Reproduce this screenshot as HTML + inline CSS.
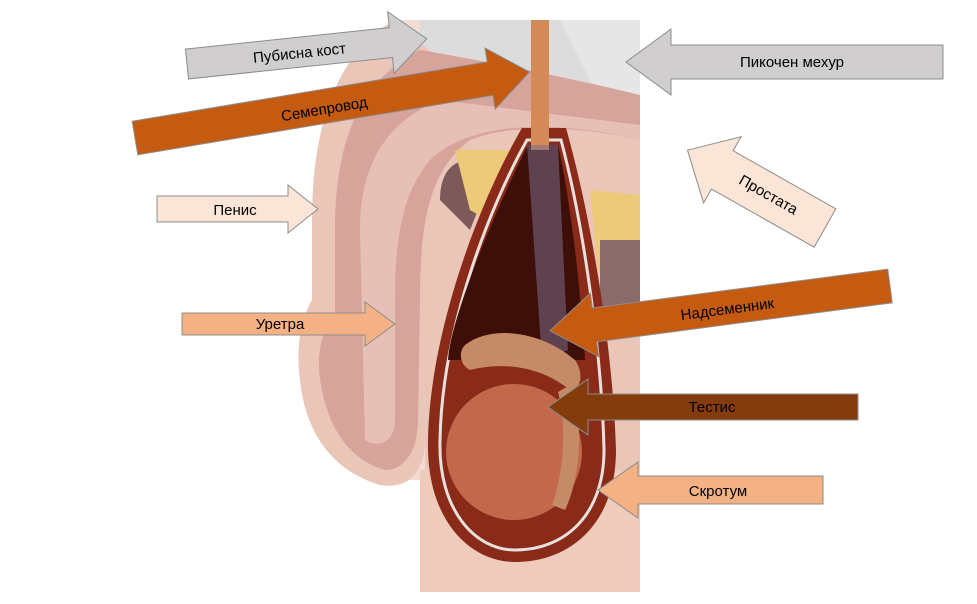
<!DOCTYPE html>
<html><head><meta charset="utf-8"><style>
html,body{margin:0;padding:0;background:#fff;}
svg{display:block;}
text{font-family:"Liberation Sans","DejaVu Sans",sans-serif;font-size:15px;fill:#000;}
</style></head><body>
<svg width="977" height="604" viewBox="0 0 977 604" xmlns="http://www.w3.org/2000/svg">
<!-- illustration -->
<rect x="395" y="20" width="245" height="460" fill="#f2dcd4"/>
<rect x="420" y="20" width="220" height="95" fill="#dcdcdc"/>
<path d="M560 20 L640 20 L640 110 L600 100 Z" fill="#e6e6e6"/>
<path d="M395 20 C340 50 312 120 312 220 L312 300 C300 320 296 350 300 380 C305 430 330 470 380 485 C410 490 425 470 425 440 L425 592 L640 592 L640 120 C600 100 520 80 440 60 Z" fill="#e9c6b8"/>
<path d="M420 50 C360 80 335 140 335 230 L335 320 C320 330 315 360 322 390 C330 430 350 460 385 470 C405 470 418 450 418 420 L420 300 C420 220 430 170 470 140 C520 120 600 130 640 140 L640 95 C580 80 480 60 420 50 Z" fill="#d7a49c"/>
<path d="M360 230 C360 160 390 120 440 100 L640 125 L640 140 C560 120 470 120 430 160 C405 190 395 230 395 300 L395 420 C395 440 380 450 365 440 Z" fill="#e6c0b6"/>
<path d="M440 200 C440 170 455 160 470 160 L490 180 L470 230 Z" fill="#7d5a5a"/>
<path d="M455 150 L515 150 L505 230 L470 210 Z" fill="#ecca7a"/>
<path d="M590 190 L640 195 L640 290 L598 270 Z" fill="#ecca7a"/>
<rect x="600" y="240" width="40" height="80" fill="#8b6a6a"/>
<rect x="420" y="470" width="220" height="122" fill="#efcbbc"/>
<!-- scrotum -->
<path d="M522 128 C480 200 430 330 428 440 C426 520 470 562 515 562 C572 562 616 522 616 450 C613 350 592 220 566 128 Z" fill="#8a2a18"/>
<path d="M527 140 C488 210 442 330 440 440 C438 510 475 550 515 550 C565 550 604 515 604 450 C602 360 585 230 561 140 Z" fill="none" stroke="#e8e0dc" stroke-width="3"/>
<path d="M528 145 C495 210 450 320 448 360 L585 360 C580 280 570 200 558 145 Z" fill="#3e0e08"/>
<rect x="531" y="20" width="18" height="130" fill="#d48a58"/>
<path d="M527 145 L558 145 L568 350 L542 360 Z" fill="#7a6c8c" opacity="0.55"/>
<circle cx="514" cy="452" r="68" fill="#c4684c"/>
<path d="M465 345 C490 325 540 330 575 360 C585 375 580 390 570 390 C545 370 510 360 470 370 C460 365 458 352 465 345 Z" fill="#c58a66"/>
<path d="M570 385 C585 420 580 480 565 510 L552 505 C565 470 566 420 558 392 Z" fill="#c58a66"/>
<!-- arrows -->
<g stroke="#8c8c8c" stroke-width="1">
<polygon transform="translate(187,64) rotate(-6)" points="0,-15 205,-15 205,-31 241,0 205,31 205,15 0,15" fill="#d0cece"/>
<polygon transform="translate(943,62) rotate(180)" points="0,-17 272,-17 272,-33 317,0 272,33 272,17 0,17" fill="#d0cece"/>
<polygon transform="translate(135,138) rotate(-9.5)" points="0,-17 360,-17 360,-31 400,0 360,31 360,17 0,17" fill="#c55a11"/>
<polygon transform="translate(157,209)" points="0,-13 131,-13 131,-24 161,0 131,24 131,13 0,13" fill="#fbe5d6"/>
<polygon transform="translate(825,228) rotate(209.5)" points="0,-22 118,-22 118,-38 158,0 118,38 118,22 0,22" fill="#fbe5d6"/>
<polygon transform="translate(182,324)" points="0,-11 183,-11 183,-22 213,0 183,22 183,11 0,11" fill="#f4b183"/>
<polygon transform="translate(890,286) rotate(172.5)" points="0,-17 298,-17 298,-32 343,0 298,32 298,17 0,17" fill="#c55a11"/>
<polygon transform="translate(858,407) rotate(180)" points="0,-13 270,-13 270,-28 310,0 270,28 270,13 0,13" fill="#843c0c"/>
<polygon transform="translate(823,490) rotate(180)" points="0,-14 185,-14 185,-28 225,0 185,28 185,14 0,14" fill="#f4b183"/>
</g>
<text transform="translate(300,58) rotate(-6)" text-anchor="middle">Пубисна кост</text>
<text x="792" y="67" text-anchor="middle">Пикочен мехур</text>
<text transform="translate(325,114) rotate(-9.5)" text-anchor="middle">Семепровод</text>
<text x="235" y="215" text-anchor="middle">Пенис</text>
<text transform="translate(766,199) rotate(29.5)" text-anchor="middle">Простата</text>
<text x="280" y="329" text-anchor="middle">Уретра</text>
<text transform="translate(728,314) rotate(-7.5)" text-anchor="middle">Надсеменник</text>
<text x="712" y="412" text-anchor="middle">Тестис</text>
<text x="718" y="496" text-anchor="middle">Скротум</text>
</svg>
</body></html>
